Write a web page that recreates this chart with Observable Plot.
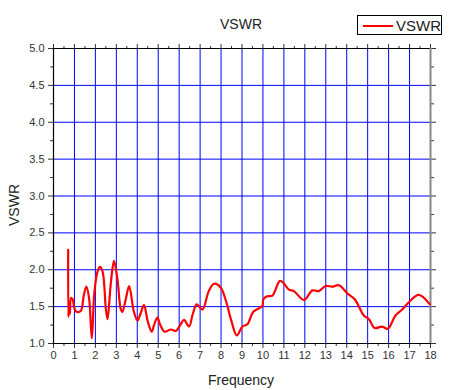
<!DOCTYPE html>
<html><head><meta charset="utf-8">
<script src="https://cdn.jsdelivr.net/npm/d3@7"></script>
<script src="https://cdn.jsdelivr.net/npm/@observablehq/plot@0.6"></script>
<style>
body{margin:0;background:#fff;font-family:"Liberation Sans",Arial,sans-serif;}
#wrap{position:relative;width:452px;height:390px;background:#fff;}
#wrap svg{position:absolute;left:0;top:0;}
.lbl{position:absolute;font-size:14px;color:#222;white-space:nowrap;}
#title{left:241px;top:16px;transform:translateX(-50%);}
#xlab{left:241px;top:372px;transform:translateX(-50%);}
#ylab{left:14px;top:205px;transform:translate(-50%,-50%) rotate(-90deg);}
#legend{position:absolute;left:357px;top:15px;width:83px;height:18px;border:1px solid #000;background:#fff;z-index:2;}
#legend .sw{position:absolute;left:5px;top:9px;width:30px;height:2px;background:#f00;}
#legend .tx{position:absolute;left:38px;top:1px;font-size:15px;color:#222;}
</style>
</head><body>
<div id="wrap">
  <div id="title" class="lbl">VSWR</div>
  <div id="xlab" class="lbl">Frequency</div>
  <div id="ylab" class="lbl">VSWR</div>
  <div id="legend"><div class="sw"></div><div class="tx">VSWR</div></div>
</div>
<script>
const frequency = [0.70,0.71,0.74,0.78,0.84,0.91,1.00,1.10,1.30,1.45,1.57,1.70,1.83,1.94,2.08,2.21,2.34,2.50,2.58,2.74,2.89,3.05,3.21,3.29,3.45,3.61,3.84,4.01,4.15,4.32,4.50,4.69,4.80,4.96,5.10,5.31,5.60,5.84,6.05,6.23,6.47,6.65,6.84,7.11,7.40,7.66,7.98,8.22,8.50,8.75,9.02,9.26,9.54,9.97,10.02,10.20,10.45,10.81,11.01,11.24,11.48,11.96,12.36,12.67,12.99,13.30,13.63,14.03,14.38,14.82,15.06,15.33,15.69,15.96,16.33,16.65,16.97,17.44,17.97];
const vswr = [2.27,1.36,1.55,1.40,1.62,1.60,1.48,1.43,1.44,1.66,1.77,1.61,1.07,1.65,1.95,2.04,1.98,1.47,1.33,1.83,2.12,1.88,1.47,1.43,1.60,1.78,1.43,1.31,1.40,1.52,1.30,1.16,1.25,1.35,1.25,1.16,1.19,1.17,1.25,1.32,1.23,1.40,1.53,1.46,1.70,1.81,1.76,1.59,1.30,1.11,1.23,1.26,1.43,1.51,1.60,1.64,1.65,1.85,1.81,1.73,1.71,1.59,1.72,1.71,1.78,1.77,1.79,1.68,1.60,1.38,1.33,1.21,1.23,1.20,1.38,1.46,1.56,1.66,1.53];
const xTicks = d3.range(0, 19);
const xMinor = d3.range(0.5, 18, 1);
const yTicks = [1.0,1.5,2.0,2.5,3.0,3.5,4.0,4.5,5.0];
const yMinor = [1.25,1.75,2.25,2.75,3.25,3.75,4.25,4.75];

const data = frequency.map((f, i) => ({f, v: vswr[i]}));
const blank = () => "";

const chart = Plot.plot({
  width: 452, height: 390,
  marginLeft: 53, marginRight: 22, marginTop: 48, marginBottom: 47,
  x: {domain: [0, 18]},
  y: {domain: [1, 5]},
  style: {fontFamily: "Liberation Sans, Arial, sans-serif", fontSize: "11px", color: "#333", background: "transparent"},
  marks: [
    Plot.ruleX(xTicks.slice(1, -1), {stroke: "#0000ff", strokeWidth: 1}),
    Plot.ruleY(yTicks.slice(1, -1), {stroke: "#0000ff", strokeWidth: 1}),
    Plot.axisX({anchor: "bottom", ticks: xTicks, tickSize: 5, tickPadding: 3, tickFormat: d => String(d), label: null}),
    Plot.axisX({anchor: "bottom", ticks: xMinor, tickSize: 3, tickFormat: blank, label: null}),
    Plot.axisX({anchor: "top", ticks: xTicks, tickSize: 5, tickFormat: blank, label: null}),
    Plot.axisX({anchor: "top", ticks: xMinor, tickSize: 3, tickFormat: blank, label: null}),
    Plot.axisY({anchor: "left", ticks: yTicks, tickSize: 5, tickPadding: 4, tickFormat: d3.format(".1f"), label: null}),
    Plot.axisY({anchor: "left", ticks: yMinor, tickSize: 3, tickFormat: blank, label: null}),
    Plot.axisY({anchor: "right", ticks: yTicks, tickSize: 5, tickFormat: blank, label: null}),
    Plot.axisY({anchor: "right", ticks: yMinor, tickSize: 3, tickFormat: blank, label: null}),
    Plot.ruleY([1], {stroke: "#000", strokeWidth: 1.2}),
    Plot.ruleY([5], {stroke: "#000", strokeWidth: 1.2}),
    Plot.ruleX([0], {stroke: "#000", strokeWidth: 1.2}),
    Plot.ruleX([18], {stroke: "#888", strokeWidth: 2}),
    Plot.line(data, {x: "f", y: "v", stroke: "#ff0000", strokeWidth: 2.2, curve: "catmull-rom"})
  ]
});
document.getElementById("wrap").prepend(chart);
</script>
</body></html>
